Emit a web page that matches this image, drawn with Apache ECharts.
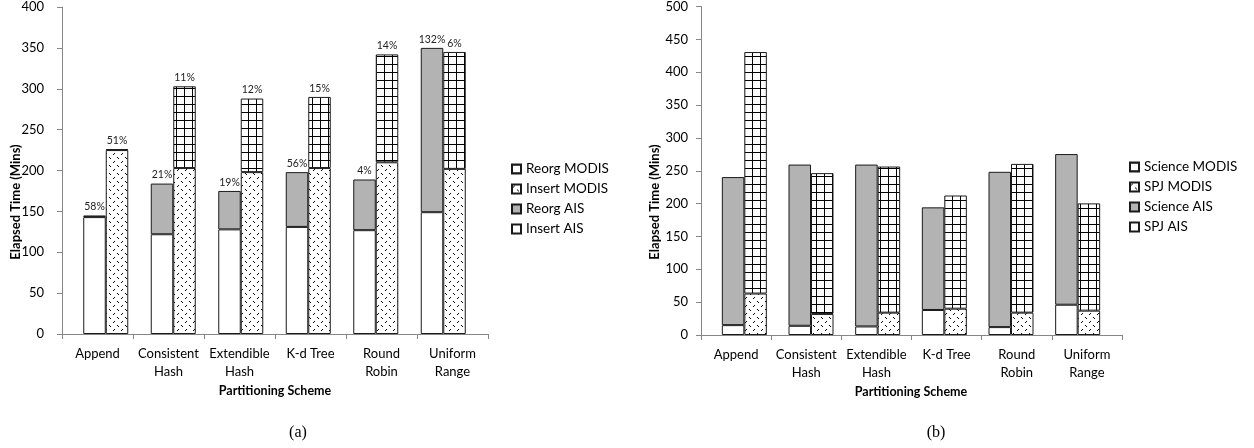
<!DOCTYPE html>
<html>
<head>
<meta charset="utf-8">
<script src="https://cdn.jsdelivr.net/npm/echarts@6/dist/echarts.min.js"></script>
<style>
  html, body { margin: 0; padding: 0; background: #fff; }
  #main { width: 1254px; height: 448px; }
</style>
</head>
<body>
<div id="main"></div>
<script>
// categories and values
var categories = ['Append', 'Consistent\nHash', 'Extendible\nHash', 'K-d Tree', 'Round\nRobin', 'Uniform\nRange'];

// (a) load / reorganise
var insertAIS   = [143, 122, 128, 131, 127, 149];
var reorgAIS    = [2, 62, 47, 67, 62, 201];
var insertMODIS = [225, 203, 198, 203, 210, 202];
var reorgMODIS  = [1, 100, 90, 87, 132, 143];
var aisPct   = ['58%', '21%', '19%', '56%', '4%', '132%'];
var modisPct = ['51%', '11%', '12%', '15%', '14%', '6%'];

// (b) SPJ / science
var spjAIS       = [15, 14, 13, 38, 12, 46];
var scienceAIS   = [225, 245, 246, 156, 236, 229];
var spjMODIS     = [63, 32, 34, 40, 34, 37];
var scienceMODIS = [367, 214, 222, 172, 226, 163];

var FONT = 'Lato';

// fill patterns
function gridPattern() {
    var c = document.createElement('canvas');
    c.width = 8; c.height = 8;
    var g = c.getContext('2d');
    g.fillStyle = '#fff'; g.fillRect(0, 0, 8, 8);
    g.fillStyle = '#000';
    g.fillRect(0, 0, 8, 1);
    g.fillRect(0, 0, 1, 8);
    return { image: c, repeat: 'repeat' };
}
function dotPattern() {
    var c = document.createElement('canvas');
    c.width = 8; c.height = 8;
    var g = c.getContext('2d');
    g.fillStyle = '#fff'; g.fillRect(0, 0, 8, 8);
    g.fillStyle = '#000';
    [[1, 2], [2, 1], [5, 5], [6, 6]].forEach(function (p) {
        g.fillRect(p[0], p[1], 1, 1);
    });
    return { image: c, repeat: 'repeat' };
}
var GRID_FILL = gridPattern();
var DOT_FILL = dotPattern();
var GRAY = '#b3b3b3';

function seg(name, data, stack, axis, fill, labels) {
    var s = {
        name: name,
        type: 'bar',
        stack: stack,
        xAxisIndex: axis,
        yAxisIndex: axis,
        data: data,
        barWidth: 22.5,
        barGap: '0%',
        itemStyle: { color: fill, borderColor: '#1a1a1a', borderWidth: 1 },
        emphasis: { disabled: true }
    };
    if (labels) {
        s.label = {
            show: true,
            position: 'top',
            distance: 3,
            fontFamily: FONT,
            fontSize: 10.5,
            color: '#222',
            formatter: function (p) { return labels[p.dataIndex]; }
        };
    }
    return s;
}

var axisGray = '#868686';

function showAxisX(grid) {
    return {
        type: 'category', gridIndex: grid, data: categories,
        axisLine: { lineStyle: { color: axisGray, width: 1 } },
        axisTick: { show: true, length: 5, lineStyle: { color: axisGray } },
        axisLabel: { fontFamily: FONT, fontSize: 13, color: '#000', margin: 11, lineHeight: 18, interval: 0 }
    };
}
function showAxisY(grid, max, margin) {
    return {
        type: 'value', gridIndex: grid, min: 0, max: max, interval: 50,
        axisLine: { show: true, lineStyle: { color: axisGray } },
        axisTick: { show: true, length: 5, lineStyle: { color: axisGray } },
        splitLine: { show: false },
        axisLabel: { fontFamily: FONT, fontSize: 13, color: '#000', margin: margin }
    };
}
function hideAxisX(grid) {
    return { type: 'category', gridIndex: grid, data: categories, show: false };
}
function hideAxisY(grid, max) {
    return { type: 'value', gridIndex: grid, min: 0, max: max, interval: 50, show: false, splitLine: { show: false } };
}

var legendText = { fontFamily: FONT, fontSize: 13.5, color: '#000' };

option = {
    animation: false,
    backgroundColor: '#fff',
    // 0,1: chart (a) axes / bars   2,3: chart (b) axes / bars
    grid: [
        { left: 62, top: 7, width: 426, height: 327 },
        { left: 72, top: 7, width: 405, height: 327 },
        { left: 701, top: 6, width: 421, height: 329 },
        { left: 711, top: 6, width: 400, height: 329 }
    ],
    xAxis: [showAxisX(0), hideAxisX(1), showAxisX(2), hideAxisX(3)],
    yAxis: [showAxisY(0, 400, 18), hideAxisY(1, 400), showAxisY(2, 500, 13), hideAxisY(3, 500)],
    legend: [{
        orient: 'vertical', left: 506, top: 157,
        itemWidth: 9, itemHeight: 9, itemGap: 6, icon: 'rect',
        textStyle: legendText,
        data: ['Reorg MODIS', 'Insert MODIS', 'Reorg AIS', 'Insert AIS'],
        selectedMode: false
    }, {
        orient: 'vertical', left: 1124, top: 155,
        itemWidth: 9, itemHeight: 9, itemGap: 6, icon: 'rect',
        textStyle: legendText,
        data: ['Science MODIS', 'SPJ MODIS', 'Science AIS', 'SPJ AIS'],
        selectedMode: false
    }],
    graphic: [
        { type: 'text', x: 16, y: 202, rotation: Math.PI / 2,
          style: { text: 'Elapsed Time (Mins)', font: 'bold 13px Lato', fill: '#000', align: 'center', verticalAlign: 'middle' } },
        { type: 'text', x: 655, y: 202, rotation: Math.PI / 2,
          style: { text: 'Elapsed Time (Mins)', font: 'bold 13px Lato', fill: '#000', align: 'center', verticalAlign: 'middle' } },
        { type: 'text', x: 275, y: 391,
          style: { text: 'Partitioning Scheme', font: 'bold 12.5px Lato', fill: '#000', align: 'center', verticalAlign: 'middle' } },
        { type: 'text', x: 911, y: 392,
          style: { text: 'Partitioning Scheme', font: 'bold 12.5px Lato', fill: '#000', align: 'center', verticalAlign: 'middle' } },
        { type: 'text', x: 298, y: 433,
          style: { text: '(a)', font: '16px "Liberation Serif"', fill: '#000', align: 'center', verticalAlign: 'middle' } },
        { type: 'text', x: 936, y: 433,
          style: { text: '(b)', font: '16px "Liberation Serif"', fill: '#000', align: 'center', verticalAlign: 'middle' } }
    ],
    series: [
        seg('Insert AIS', insertAIS, 'aisA', 1, '#fff'),
        seg('Reorg AIS', reorgAIS, 'aisA', 1, GRAY, aisPct),
        seg('Insert MODIS', insertMODIS, 'modisA', 1, DOT_FILL),
        seg('Reorg MODIS', reorgMODIS, 'modisA', 1, GRID_FILL, modisPct),
        seg('SPJ AIS', spjAIS, 'aisB', 3, '#fff'),
        seg('Science AIS', scienceAIS, 'aisB', 3, GRAY),
        seg('SPJ MODIS', spjMODIS, 'modisB', 3, DOT_FILL),
        seg('Science MODIS', scienceMODIS, 'modisB', 3, GRID_FILL)
    ]
};

var myChart = echarts.init(document.getElementById('main'));
myChart.setOption(option);
</script>
</body>
</html>
